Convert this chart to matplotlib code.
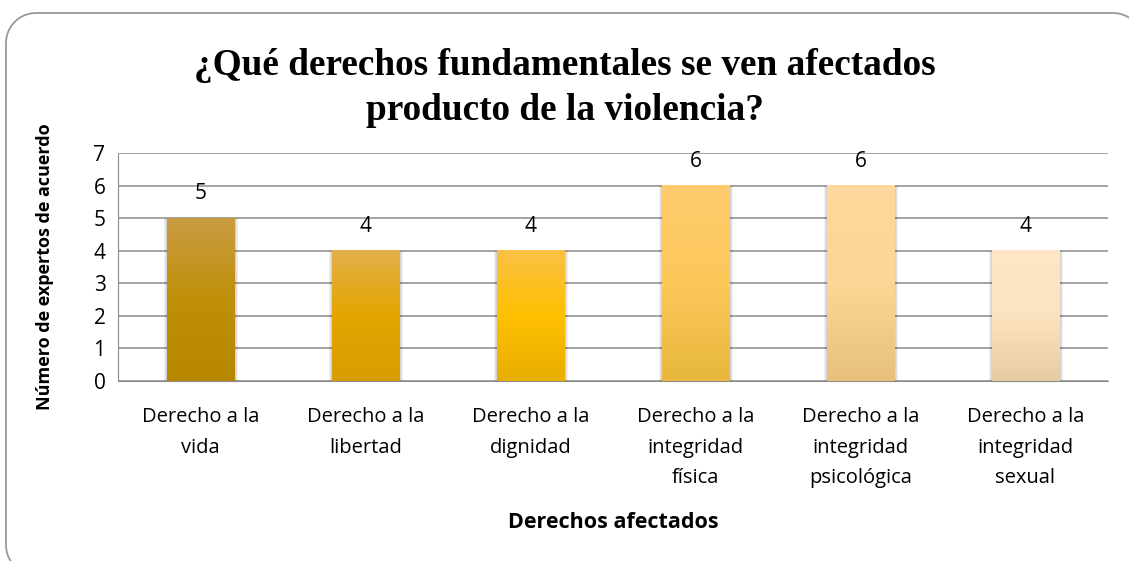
import matplotlib.pyplot as plt
import numpy as np
from matplotlib.colors import LinearSegmentedColormap
from matplotlib.lines import Line2D

categories = ["Derecho a la\nvida", "Derecho a la\nlibertad", "Derecho a la\ndignidad",
              "Derecho a la\nintegridad\nfísica", "Derecho a la\nintegridad\npsicológica",
              "Derecho a la\nintegridad\nsexual"]
values = [5, 4, 4, 6, 6, 4]
top_colors = ["#C99C42", "#E3B04A", "#FAC146", "#FECC6E", "#FED89C", "#FEE6C6"]
mid_colors = ["#C08F08", "#E2A500", "#FFC000", "#FDC75A", "#FCD694", "#FDE4C0"]
bot_colors = ["#B88700", "#D89D00", "#E8AE00", "#E7B83C", "#E6C07C", "#E6CBA2"]

title = "¿Qué derechos fundamentales se ven afectados\nproducto de la violencia?"

W, H = 1129, 561
fig = plt.figure(figsize=(W / 100, H / 100), dpi=100)
ax = fig.add_axes([118 / W, 1 - 381 / H, 990 / W, 228 / H])

# rounded frame (inches); right and bottom sides run off the picture
x0, x1, y0, y1, r = 0.06, 11.43, -0.14, 5.48, 0.3
t1 = np.linspace(np.pi * 1.5, np.pi, 20)
t2 = np.linspace(np.pi, np.pi / 2, 20)
t3 = np.linspace(np.pi / 2, 0, 20)
fx = np.concatenate([x0 + r + r * np.cos(t1), x0 + r + r * np.cos(t2), x1 - r + r * np.cos(t3)])
fy = np.concatenate([y0 + r + r * np.sin(t1), y1 - r + r * np.sin(t2), y1 - r + r * np.sin(t3)])
fig.lines.append(Line2D(fx, fy, transform=fig.dpi_scale_trans,
                        color="#999999", linewidth=1.3))

x = np.arange(len(categories))
width = 0.41

for i, v in enumerate(values):
    cmap = LinearSegmentedColormap.from_list(
        "g%d" % i, [bot_colors[i], mid_colors[i], top_colors[i]])
    # soft shadow around the bar
    for k in range(1, 4):
        ax.bar(x[i] + 0.004, v + 0.01 * k, width + 0.012 * k, bottom=-0.03,
               color="#000000", alpha=0.06, linewidth=0, zorder=2)
    grad = np.linspace(0, 1, 256).reshape(-1, 1)
    ax.imshow(grad, cmap=cmap, origin="lower", aspect="auto",
              extent=(x[i] - width / 2, x[i] + width / 2, 0, v), zorder=3)
    ax.text(x[i], v + 0.75, str(v), ha="center", va="center",
            fontsize=15, family="Open Sans", zorder=4)

ax.set_xlim(-0.5, len(categories) - 0.5)
ax.set_ylim(0, 7)
ax.set_yticks(range(0, 8))
ax.yaxis.grid(True, color="#a3a3a3", linewidth=1.4, zorder=0)
ax.set_axisbelow(True)
for s in ["top", "right"]:
    ax.spines[s].set_visible(False)
ax.spines["left"].set_color("#8c8c8c")
ax.spines["bottom"].set_color("#8c8c8c")
ax.tick_params(axis="y", length=0, labelsize=15, pad=9)
ax.tick_params(axis="x", length=0, labelsize=14.5, pad=19)
ax.set_xticks(x)
ax.set_xticklabels(categories, family="Open Sans", linespacing=1.7)
for lab in ax.get_yticklabels():
    lab.set_family("Open Sans")

ax.set_ylabel("Número de expertos de acuerdo", fontsize=13, fontweight="bold",
              family="Open Sans", va="center", ha="center")
ax.yaxis.set_label_coords((45 - 118) / 990, 0.5)
ax.set_xlabel("Derechos afectados", fontsize=15.5, fontweight="bold",
              family="Open Sans", va="center", ha="center")
ax.xaxis.set_label_coords(0.5, (381 - 522) / 228)

fig.text(0.5, 1 - 88 / H, title, ha="center", va="center", fontsize=26.8,
         fontweight="bold", family="Liberation Serif", linespacing=1.35)

fig.savefig("out.png", dpi=100)
